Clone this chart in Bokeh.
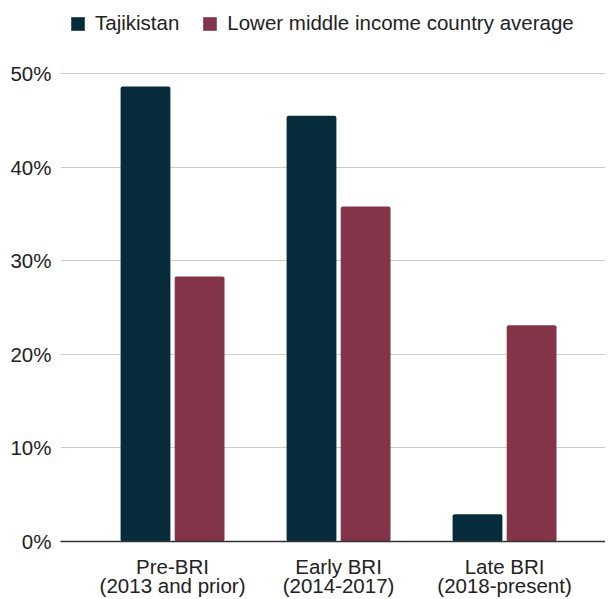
from bokeh.plotting import figure
from bokeh.models import ColumnDataSource, Legend, LegendItem, FixedTicker, Range1d
from bokeh.transform import dodge
from bokeh.embed import file_html
from bokeh.resources import INLINE

categories = ["Pre-BRI\n(2013 and prior)", "Early BRI\n(2014-2017)", "Late BRI\n(2018-present)"]
series_names = ["Tajikistan", "Lower middle income country average"]
tajikistan = [48.6, 45.5, 2.9]
lmic_avg = [28.3, 35.8, 23.1]
y_ticks = [0, 10, 20, 30, 40, 50]
colors = ["#062c3b", "#833449"]

FONT = "Liberation Sans"
TXT = "#222222"

xpos = list(range(len(categories)))
src = ColumnDataSource(dict(x=xpos, taj=tajikistan, lmic=lmic_avg))

p = figure(frame_width=545, frame_height=541, output_backend="svg", toolbar_location=None,
           x_range=Range1d(-0.675, 2.608), y_range=Range1d(0, 57.8),
           min_border_left=60, min_border_right=0, min_border_bottom=50, min_border_top=0)
p.outline_line_color = None

r1 = p.vbar(x=dodge("x", -0.163), top="taj", width=0.3, source=src, fill_color=colors[0],
            line_color=None, border_radius=2)
r2 = p.vbar(x=dodge("x", 0.163), top="lmic", width=0.3, source=src, fill_color=colors[1],
            line_color=None, border_radius=2)

p.xaxis.ticker = FixedTicker(ticks=xpos)
p.xaxis.major_label_overrides = {i: c for i, c in zip(xpos, categories)}
p.yaxis.ticker = FixedTicker(ticks=y_ticks)
p.yaxis.major_label_overrides = {v: f"{v}%" for v in y_ticks}

for ax in (p.xaxis, p.yaxis):
    ax.major_tick_line_color = None
    ax.minor_tick_line_color = None
    ax.major_label_text_font = FONT
    ax.major_label_text_font_size = "20.5px"
    ax.major_label_text_color = TXT
p.yaxis.axis_line_color = None
p.yaxis.major_label_standoff = 3
p.xaxis.axis_line_color = "#333333"
p.xaxis.axis_line_width = 1.5
p.xaxis.major_label_standoff = 7
p.xaxis.major_label_text_line_height = 0.85

p.xgrid.grid_line_color = None
p.ygrid.grid_line_color = "#cccccc"
p.ygrid.grid_line_width = 1.2

legend = Legend(items=[LegendItem(label=series_names[0], renderers=[r1]),
                       LegendItem(label=series_names[1], renderers=[r2])],
                orientation="horizontal", location=(9, 506),
                label_text_font=FONT, label_text_font_size="20.5px", label_text_color=TXT,
                glyph_width=17, glyph_height=17, label_standoff=9, spacing=22,
                padding=0, margin=0, border_line_color=None, background_fill_alpha=0)
p.add_layout(legend, "center")

open("out.html", "w").write(file_html(p, INLINE))
